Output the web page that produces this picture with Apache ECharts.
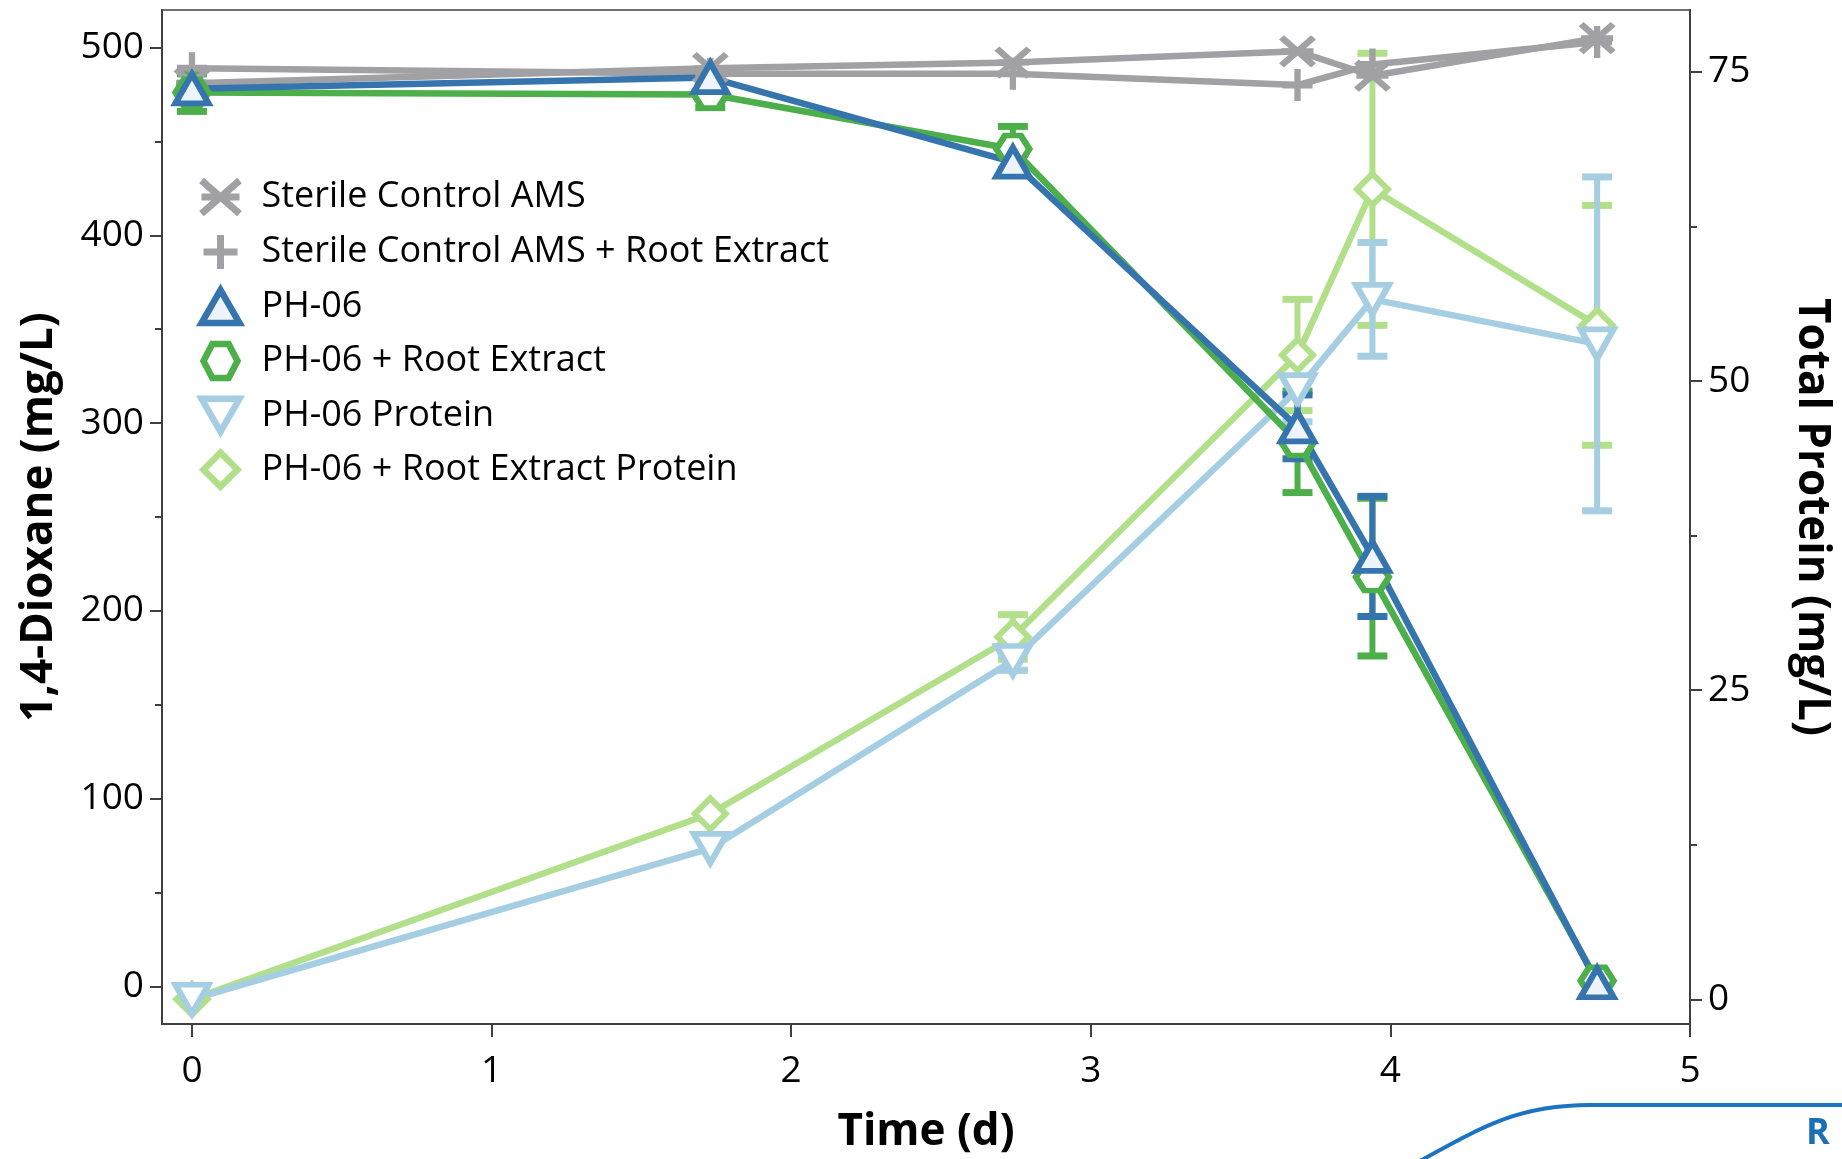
<!DOCTYPE html>
<html>
<head>
<meta charset="utf-8">
<script src="https://cdn.jsdelivr.net/npm/echarts@6/dist/echarts.min.js"></script>
<style>
  html, body { margin: 0; padding: 0; background: #fff; }
  #chart { width: 1842px; height: 1159px; }
</style>
</head>
<body>
<div id="chart"></div>
<script>
// ---- data ----
const times = [0, 1.73, 2.74, 3.69, 3.94, 4.69];
const sterileAMS = [481, 489, 492, 498, 485, 505];
const sterileAMSRoot = [489, 486, 486, 480, 491, 503];
const ph06 = [478, 484, 439, 298, 229, 2];
const ph06Err = [3, 2, 4, 17, 32, 0];
const ph06Root = [476, 475, 446, 290, 218, 3];
const ph06RootErr = [10, 7, 12, 27, 42, 0];
const ph06Protein = [0, 12.2, 27.4, 49.3, 56.6, 53];
const ph06ProteinErr = [0, 0, 0.8, 2.6, 4.6, 13.5];
const ph06RootProtein = [0, 15, 29.3, 52.1, 65.5, 54.5];
const ph06RootProteinErr = [0, 0, 1.8, 4.5, 11, 9.7];

const xTicks = [0, 1, 2, 3, 4, 5];
const leftTicks = [0, 100, 200, 300, 400, 500];
const leftMinorTicks = [50, 150, 250, 350, 450];
const rightTicks = [0, 25, 50, 75];
const rightMinorTicks = [12.5, 37.5, 62.5];

const names = [
  'Sterile Control AMS',
  'Sterile Control AMS + Root Extract',
  'PH-06',
  'PH-06 + Root Extract',
  'PH-06 Protein',
  'PH-06 + Root Extract Protein'
];

// ---- styles ----
const C_GRAY = '#a0a0a5';
const C_BLUE = '#3674ae';
const C_GREEN = '#4caf4a';
const C_LBLUE = '#a6cee3';
const C_LGREEN = '#b2df8a';
const AX = '#404040';
const FONT = "'Open Sans', 'Noto Sans', sans-serif";

const SYM_X = 'path://M0,0 L10,8.7 M10,0 L0,8.7 M0,4.35 L10,4.35';
const SYM_PLUS = 'path://M5,0 L5,10 M0,5 L10,5';
const SYM_TRI = 'path://M0,8.66 L5,0 L10,8.66 Z';
const SYM_HEX = 'path://M0,5 L2.6,0 L7.4,0 L10,5 L7.4,10 L2.6,10 Z';
const SYM_ITRI = 'path://M0,0 L10,0 L5,8.66 Z';
const SYM_DIA = 'path://M5,0 L10,5 L5,10 L0,5 Z';

function pairs(vals) { return times.map((t, i) => [t, vals[i]]); }
function errData(vals, errs) {
  const out = [];
  times.forEach((t, i) => { if (errs[i] > 0) out.push([t, vals[i] - errs[i], vals[i] + errs[i]]); });
  return out;
}
function errSeries(vals, errs, color, yIdx) {
  return {
    type: 'custom',
    yAxisIndex: yIdx,
    silent: true,
    encode: { x: 0, y: [1, 2] },
    data: errData(vals, errs),
    renderItem: function (params, api) {
      const x = api.value(0);
      const lo = api.coord([x, api.value(1)]);
      const hi = api.coord([x, api.value(2)]);
      const hw = 15;
      return {
        type: 'group',
        children: [
          { type: 'line', shape: { x1: lo[0], y1: lo[1], x2: hi[0], y2: hi[1] }, style: { stroke: color, lineWidth: 6 } },
          { type: 'line', shape: { x1: lo[0] - hw, y1: lo[1], x2: lo[0] + hw, y2: lo[1] }, style: { stroke: color, lineWidth: 7 } },
          { type: 'line', shape: { x1: hi[0] - hw, y1: hi[1], x2: hi[0] + hw, y2: hi[1] }, style: { stroke: color, lineWidth: 7 } }
        ]
      };
    }
  };
}
function lineSeries(name, vals, color, yIdx, symbol, size, fill, bw) {
  return {
    name: name,
    type: 'line',
    yAxisIndex: yIdx,
    data: pairs(vals),
    symbol: symbol,
    symbolSize: size,
    showAllSymbol: true,
    lineStyle: { color: color, width: 6.5 },
    itemStyle: { color: fill, borderColor: color, borderWidth: bw, borderJoin: 'miter', borderMiterLimit: 10 }
  };
}

const option = {
  animation: false,
  backgroundColor: '#ffffff',
  grid: {
    left: 162, right: 152, top: 10, bottom: 125,
    show: true, borderColor: AX, borderWidth: 1.5,
    containLabel: false
  },
  legend: {
    orient: 'vertical',
    left: 198, top: 177,
    padding: 0,
    itemGap: 14.4,
    itemWidth: 38, itemHeight: 34,
    textStyle: { fontFamily: FONT, fontSize: 36, color: '#000', lineHeight: 36, padding: [0, 0, 0, 17] },
    data: [
      { name: names[0], icon: SYM_X, itemStyle: { color: C_GRAY, borderColor: C_GRAY, borderWidth: 7 } },
      { name: names[1], icon: SYM_PLUS, itemStyle: { color: C_GRAY, borderColor: C_GRAY, borderWidth: 7 } },
      { name: names[2], icon: SYM_TRI, itemStyle: { color: '#eef4fc', borderColor: C_BLUE, borderWidth: 6.5, borderJoin: 'miter' } },
      { name: names[3], icon: SYM_HEX, itemStyle: { color: '#ffffff', borderColor: C_GREEN, borderWidth: 6.5, borderJoin: 'miter' } },
      { name: names[4], icon: SYM_ITRI, itemStyle: { color: '#ffffff', borderColor: C_LBLUE, borderWidth: 6.5, borderJoin: 'miter' } },
      { name: names[5], icon: SYM_DIA, itemStyle: { color: '#ffffff', borderColor: C_LGREEN, borderWidth: 6.5, borderJoin: 'miter' } }
    ]
  },
  xAxis: {
    type: 'value', min: -0.1, max: 5,
    name: 'Time (d)', nameLocation: 'middle', nameGap: 86,
    nameTextStyle: { fontFamily: FONT, fontWeight: 'bold', fontSize: 44, color: '#000' },
    axisLine: { show: true, onZero: false, lineStyle: { color: AX, width: 2 } },
    axisTick: { show: true, customValues: xTicks, length: 13, inside: false, lineStyle: { color: AX, width: 2 } },
    axisLabel: { customValues: xTicks, margin: 29, fontFamily: FONT, fontSize: 37, color: '#000' },
    splitLine: { show: false }
  },
  yAxis: [
    {
      type: 'value', min: -20, max: 520, position: 'left',
      name: '1,4-Dioxane (mg/L)', nameLocation: 'middle', nameGap: 101, nameRotate: 90,
      nameTextStyle: { fontFamily: FONT, fontWeight: 'bold', fontSize: 44, color: '#000' },
      axisLine: { show: true, onZero: false, lineStyle: { color: AX, width: 2 } },
      axisTick: { show: true, customValues: leftTicks, length: 12, lineStyle: { color: AX, width: 2 } },
      axisLabel: { customValues: leftTicks, margin: 18, fontFamily: FONT, fontSize: 37, color: '#000' },
      splitLine: { show: false }
    },
    {
      type: 'value', min: -2, max: 80, position: 'right',
      name: 'Total Protein (mg/L)', nameLocation: 'middle', nameGap: 100, nameRotate: -90,
      nameTextStyle: { fontFamily: FONT, fontWeight: 'bold', fontSize: 44, color: '#000' },
      axisLine: { show: true, onZero: false, lineStyle: { color: AX, width: 2 } },
      axisTick: { show: true, customValues: rightTicks, length: 12, lineStyle: { color: AX, width: 2 } },
      axisLabel: { customValues: rightTicks, margin: 18, fontFamily: FONT, fontSize: 37, color: '#000' },
      splitLine: { show: false }
    },
    {
      type: 'value', min: -20, max: 520, position: 'left', offset: 0,
      axisLine: { show: false, onZero: false }, axisLabel: { show: false }, splitLine: { show: false },
      axisTick: { show: true, customValues: leftMinorTicks, length: 7, lineStyle: { color: AX, width: 2 } }
    },
    {
      type: 'value', min: -2, max: 80, position: 'right', offset: 0,
      axisLine: { show: false, onZero: false }, axisLabel: { show: false }, splitLine: { show: false },
      axisTick: { show: true, customValues: rightMinorTicks, length: 7, lineStyle: { color: AX, width: 2 } }
    }
  ],
  graphic: [
    {
      type: 'bezierCurve', silent: true,
      shape: { x1: 1418, y1: 1162, cpx1: 1485, cpy1: 1125, cpx2: 1520, cpy2: 1105, x2: 1590, y2: 1105 },
      style: { stroke: '#1a74c0', lineWidth: 4, fill: null }
    },
    {
      type: 'line', silent: true,
      shape: { x1: 1588, y1: 1105, x2: 1845, y2: 1105 },
      style: { stroke: '#1a74c0', lineWidth: 4 }
    },
    {
      type: 'text', silent: true, left: 1806, top: 1116,
      style: { text: 'R', fontFamily: FONT, fontWeight: 'bold', fontSize: 36, fill: '#1a6fb8' }
    }
  ],
  series: [
    lineSeries(names[1], sterileAMSRoot, C_GRAY, 0, SYM_PLUS, [30, 32], C_GRAY, 6.5),
    lineSeries(names[0], sterileAMS, C_GRAY, 0, SYM_X, [32, 28], C_GRAY, 6.5),
    errSeries(ph06RootProtein, ph06RootProteinErr, C_LGREEN, 1),
    lineSeries(names[5], ph06RootProtein, C_LGREEN, 1, SYM_DIA, [31, 31], '#ffffff', 6),
    errSeries(ph06Protein, ph06ProteinErr, C_LBLUE, 1),
    lineSeries(names[4], ph06Protein, C_LBLUE, 1, SYM_ITRI, [33, 29], '#ffffff', 6),
    errSeries(ph06Root, ph06RootErr, C_GREEN, 0),
    lineSeries(names[3], ph06Root, C_GREEN, 0, SYM_HEX, [33, 27], '#ffffff', 6),
    errSeries(ph06, ph06Err, C_BLUE, 0),
    lineSeries(names[2], ph06, C_BLUE, 0, SYM_TRI, [33, 29], '#eef4fc', 6)
  ]
};

const chart = echarts.init(document.getElementById('chart'), null, { renderer: 'canvas' });
chart.setOption(option);
</script>
</body>
</html>
